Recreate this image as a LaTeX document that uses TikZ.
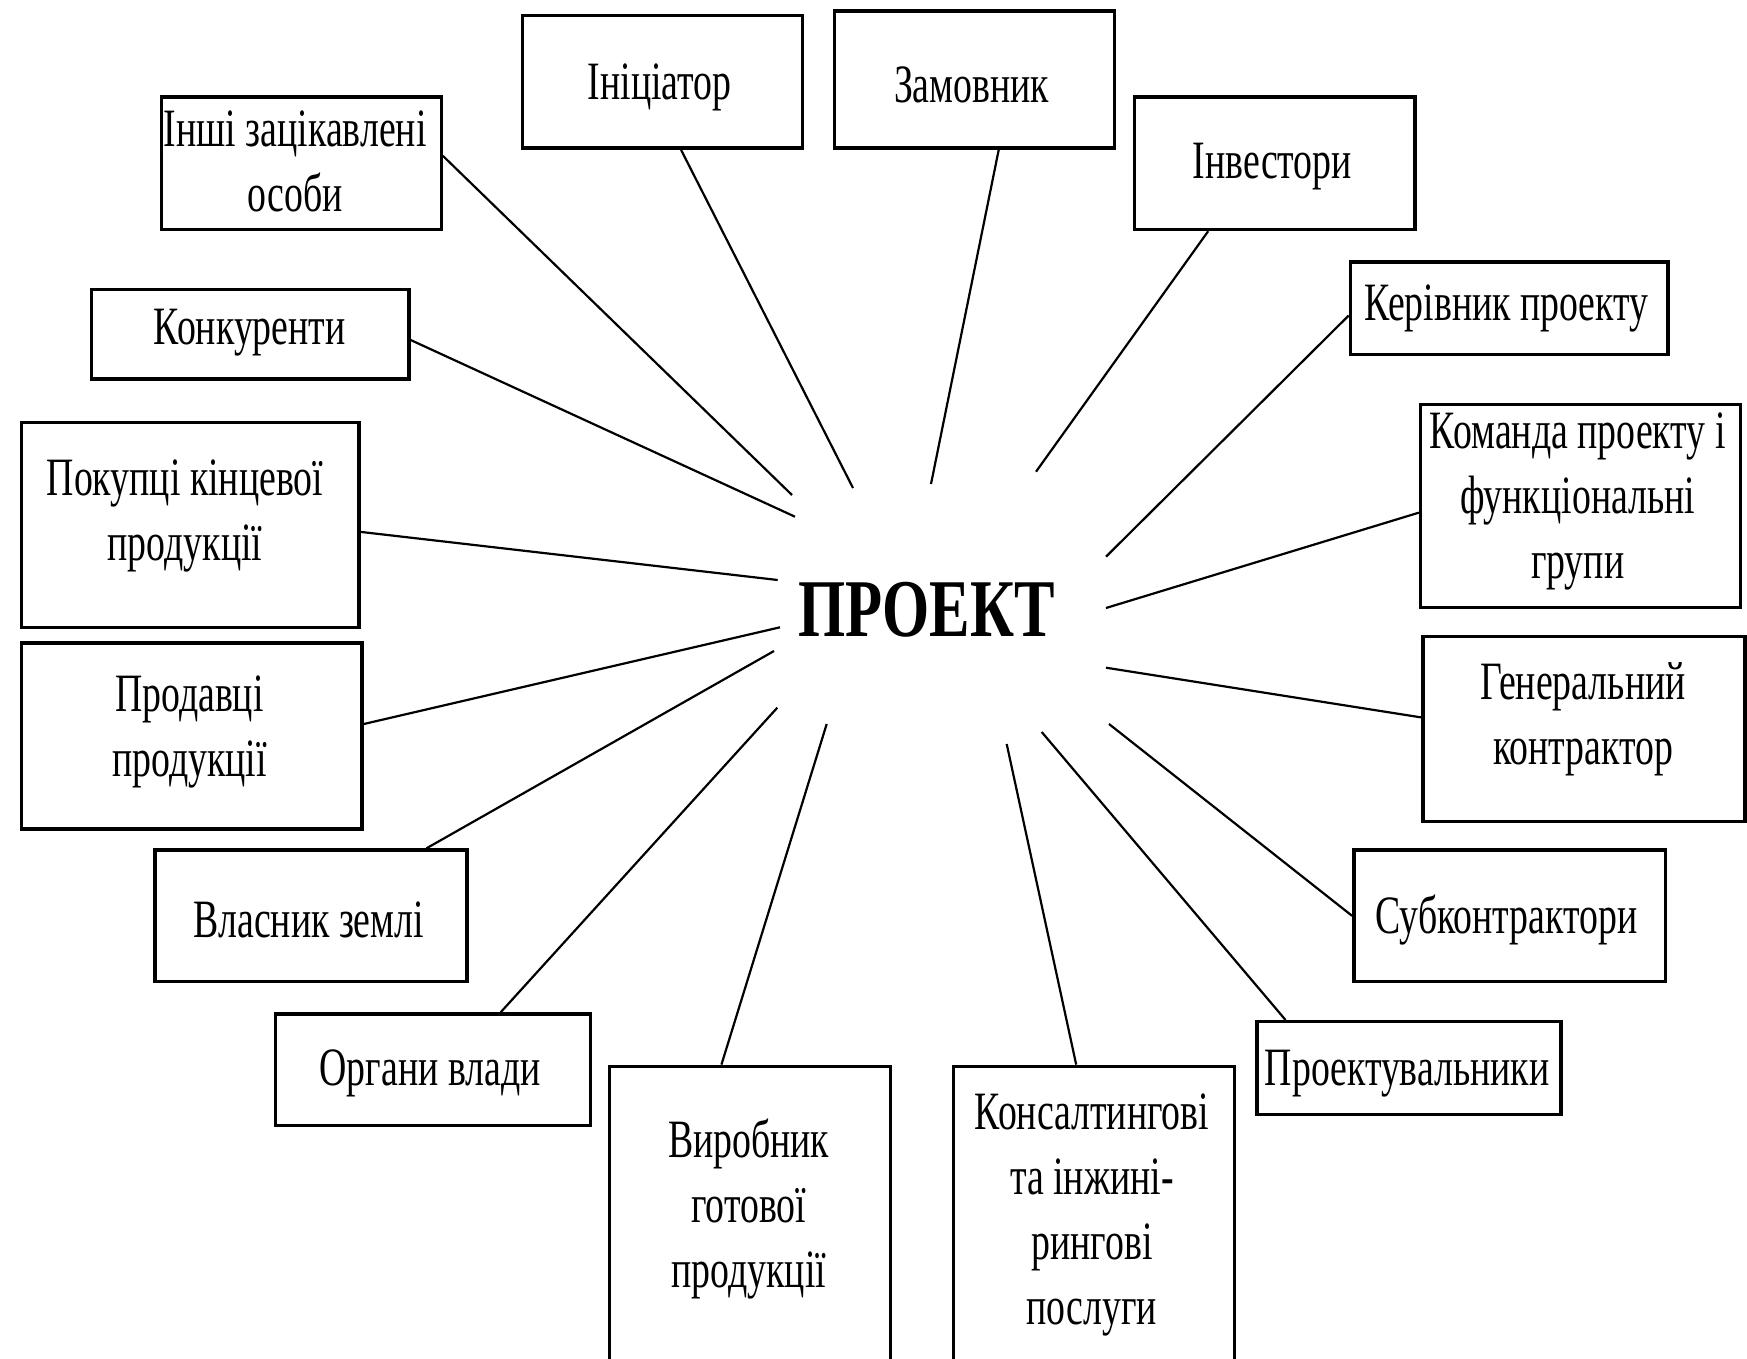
\documentclass[tikz,border=0pt]{standalone}
\usepackage{fontspec}
\setmainfont{Liberation Serif}[FakeStretch=0.7]
\newfontfamily\titlefont{Liberation Serif}[FakeStretch=0.74]
\usetikzlibrary{calc,fit}
\begin{document}
\begin{tikzpicture}[x=0.5pt,y=-0.5pt,
  box/.style={draw, line width=1.7pt, inner sep=0pt},
  conn/.style={line width=1.1pt},
  lbl/.style={font=\fontsize{27pt}{32.5pt}\selectfont, align=center, inner sep=0pt, yshift=-1.8pt},
  title/.style={font=\titlefont\fontsize{41pt}{48pt}\selectfont\bfseries, inner sep=0pt}]
\useasboundingbox (0,0) rectangle (1747,1359);
\begin{scope}
\clip (0,0) rectangle (1747,1359);
% boxes
\node[box, fit={(522.6,15.6) (802.2,148.2)}] (ini) {};
\node[box, fit={(834.5,11.1) (1114.2,148.2)}] (zam) {};
\node[box, fit={(1134.3,96.9) (1415.0,229.5)}] (inv) {};
\node[box, fit={(1350.4,261.8) (1667.9,354.3)}] (ker) {};
\node[box, fit={(1420.6,404.5) (1740.4,607.2)}] (kom) {};
\node[box, fit={(1422.8,636.2) (1744.8,821.2)}] (gen) {};
\node[box, fit={(1353.8,850.1) (1665.7,981.6)}] (sub) {};
\node[box, fit={(1256.8,1021.7) (1561.0,1114.2)}] (prk) {};
\node[box, fit={(953.7,1066.3) (1234.5,1400)}] (kon) {};
\node[box, fit={(609.5,1066.3) (890.2,1400)}] (vyr) {};
\node[box, fit={(275.2,1013.9) (590.5,1125.3)}] (org) {};
\node[box, fit={(154.9,850.1) (466.9,981.6)}] (vla) {};
\node[box, fit={(21.2,642.9) (362.1,829.0)}] (prd) {};
\node[box, fit={(21.2,422.3) (358.8,627.3)}] (pok) {};
\node[box, fit={(91.4,289.7) (408.9,378.8)}] (knk) {};
\node[box, fit={(161.6,96.9) (441.2,229.5)}] (ins) {};
% texts
\node[lbl] (t-ins) at (295.3,158.2) {Інші зацікавлені\\особи};
\node[lbl] (t-ini) at (659.6,83.6) {Ініціатор};
\node[lbl] (t-zam) at (971.6,81.3) {Замовник};
\node[lbl] (t-inv) at (1272.4,162.7) {Інвестори};
\node[lbl] (t-ker) at (1506.4,305.3) {Керівник проекту};
\node[lbl] (t-kom) at (1577.7,498.1) {Команда проекту і\\функціональні\\групи};
\node[lbl] (t-gen) at (1583,715.7) {Генеральний\\контрактор};
\node[lbl] (t-sub) at (1506.4,915.9) {Субконтрактори};
\node[lbl] (t-prk) at (1407.2,1069.6) {Проектувальники};
\node[lbl] (t-kon) at (1091.9,1211.2) {Консалтингові\\та інжині-\\рингові\\послуги};
\node[lbl] (t-vyr) at (748.7,1205.6) {Виробник\\готової\\продукції};
\node[lbl] (t-org) at (430.1,1069.6) {Органи влади};
\node[lbl] (t-vla) at (308.6,915.9) {Власник землі};
\node[lbl] (t-prd) at (189.4,728.7) {Продавці\\продукції};
\node[lbl] (t-pok) at (185,512.5) {Покупці кінцевої\\продукції};
\node[lbl] (t-knk) at (249.6,328.7) {Конкуренти};
\node[title] (proj) at (926.5,609.7) {ПРОЕКТ};
% free ends
\coordinate (e-ins) at (792,495);
\coordinate (e-ini) at (853,488);
\coordinate (e-zam) at (931,484);
\coordinate (e-inv) at (1036,471.7);
\coordinate (e-ker) at (1106,556.7);
\coordinate (e-kom) at (1106,608);
\coordinate (e-gen) at (1106,667.7);
\coordinate (e-sub) at (1109,724);
\coordinate (e-prk) at (1041.7,732);
\coordinate (e-kon) at (1006.7,744);
\coordinate (e-vyr) at (826.7,724);
\coordinate (e-org) at (777.3,707.7);
\coordinate (e-vla) at (774,651);
\coordinate (e-prd) at (780,627.3);
\coordinate (e-pok) at (777.7,580);
\coordinate (e-knk) at (795,516.7);
% connectors
\draw[conn] ($(ins.north east)!0.446!(ins.south east)$) -- (e-ins);
\draw[conn] ($(ini.south west)!0.566!(ini.south east)$) -- (e-ini);
\draw[conn] ($(zam.south west)!0.586!(zam.south east)$) -- (e-zam);
\draw[conn] ($(inv.south west)!0.266!(inv.south east)$) -- (e-inv);
\draw[conn] ($(ker.north west)!0.578!(ker.south west)$) -- (e-ker);
\draw[conn] ($(kom.north west)!0.533!(kom.south west)$) -- (e-kom);
\draw[conn] ($(gen.north west)!0.44!(gen.south west)$) -- (e-gen);
\draw[conn] ($(sub.north west)!0.5!(sub.south west)$) -- (e-sub);
\draw[conn] ($(prk.north west)!0.099!(prk.north east)$) -- (e-prk);
\draw[conn] ($(kon.north west)!0.437!(kon.north east)$) -- (e-kon);
\draw[conn] ($(vyr.north west)!0.40!(vyr.north east)$) -- (e-vyr);
\draw[conn] ($(org.north west)!0.713!(org.north east)$) -- (e-org);
\draw[conn] ($(vla.north west)!0.866!(vla.north east)$) -- (e-vla);
\draw[conn] ($(prd.north east)!0.437!(prd.south east)$) -- (e-prd);
\draw[conn] ($(pok.north east)!0.534!(pok.south east)$) -- (e-pok);
\draw[conn] ($(knk.north east)!0.562!(knk.south east)$) -- (e-knk);
\end{scope}
\end{tikzpicture}
\end{document}
